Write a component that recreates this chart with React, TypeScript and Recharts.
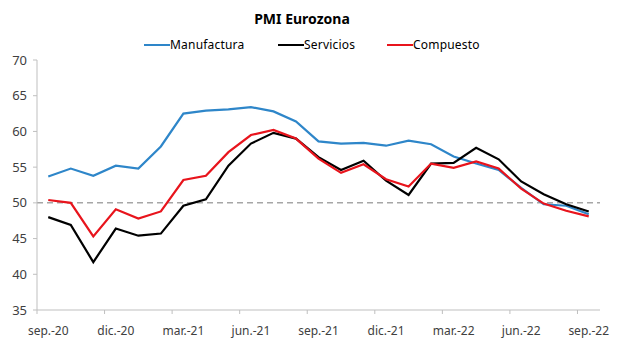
import React from 'react';
import { LineChart, Line, XAxis, YAxis, ReferenceLine } from 'recharts';

const months = ['sep.-20','oct.-20','nov.-20','dic.-20','ene.-21','feb.-21','mar.-21','abr.-21','may.-21','jun.-21','jul.-21','ago.-21','sep.-21','oct.-21','nov.-21','dic.-21','ene.-22','feb.-22','mar.-22','abr.-22','may.-22','jun.-22','jul.-22','ago.-22','sep.-22'];
const manufactura = [53.7,54.8,53.8,55.2,54.8,57.9,62.5,62.9,63.1,63.4,62.8,61.4,58.6,58.3,58.4,58.0,58.7,58.2,56.5,55.5,54.6,52.1,49.8,49.6,48.4];
const servicios = [48.0,46.9,41.7,46.4,45.4,45.7,49.6,50.5,55.2,58.3,59.8,59.0,56.4,54.6,55.9,53.1,51.1,55.5,55.6,57.7,56.1,53.0,51.2,49.8,48.8];
const compuesto = [50.4,50.0,45.3,49.1,47.8,48.8,53.2,53.8,57.1,59.5,60.2,59.0,56.2,54.2,55.4,53.3,52.3,55.5,54.9,55.8,54.8,52.0,49.9,48.9,48.1];
const yTicks = [35,40,45,50,55,60,65,70];
const labelIdx = [0,3,6,9,12,15,18,21,24];
const boundaryTicks = [-0.5,2.5,5.5,8.5,11.5,14.5,17.5,20.5,23.5];
const seriesNames = ['Manufactura','Servicios','Compuesto'];
const seriesColors = ['#2E86C9','#000000','#E8141C'];
const legendLeft = [144, 278, 387];

const data = months.map((m, i) => ({ i, m, manufactura: manufactura[i], servicios: servicios[i], compuesto: compuesto[i] }));
const xTicks = [...labelIdx, ...boundaryTicks].sort((a, b) => a - b);

const FONT = '"Noto Sans", sans-serif';

const XTick = (props: any) => {
  const { x, y, payload } = props;
  const v = payload.value;
  if (v % 1 !== 0) {
    return <line x1={x} x2={x} y1={y} y2={y + 4} stroke="#bfbfbf" strokeWidth={1} />;
  }
  return (
    <text x={x} y={y + 25} textAnchor="middle" fontSize={12} fill="#404040" fontFamily={FONT}>
      {months[v]}
    </text>
  );
};

export default function App() {
  return (
    <div style={{ position: 'absolute', left: 0, top: 0, width: 617, height: 353, background: '#fff', fontFamily: FONT }}>
      <div style={{ position: 'absolute', left: 0, top: 9, width: 604, textAlign: 'center', fontSize: 14, fontWeight: 700, color: '#000', lineHeight: '20px' }}>
        PMI Eurozona
      </div>
      {seriesNames.map((n, k) => (
        <div key={n} style={{ position: 'absolute', left: legendLeft[k], top: 36, display: 'flex', alignItems: 'center', fontSize: 12, color: '#000', lineHeight: '18px', whiteSpace: 'nowrap' }}>
          <div style={{ width: 26, height: 2.5, background: seriesColors[k] }} />
          <span style={{ letterSpacing: 0.2 }}>{n}</span>
        </div>
      ))}
      <LineChart width={617} height={353} data={data} margin={{ top: 60, right: 17, left: 0, bottom: 13 }}>
        <XAxis
          dataKey="i"
          type="number"
          domain={[-0.5, 24.5]}
          ticks={xTicks}
          interval={0}
          tick={<XTick />}
          tickLine={false}
          tickSize={0}
          tickMargin={0}
          axisLine={{ stroke: '#bfbfbf' }}
          height={30}
          allowDataOverflow
        />
        <YAxis
          domain={[35, 70]}
          ticks={yTicks}
          interval={0}
          width={37}
          tickSize={4}
          tickMargin={6}
          axisLine={{ stroke: '#bfbfbf' }}
          tickLine={{ stroke: '#bfbfbf' }}
          tick={{ fontSize: 13, fill: '#404040', fontFamily: FONT }}
          allowDataOverflow
        />
        <ReferenceLine y={50} stroke="#a6a6a6" strokeDasharray="6 4" strokeWidth={1.5} />
        <Line type="linear" dataKey="manufactura" stroke={seriesColors[0]} strokeWidth={2.2} dot={false} isAnimationActive={false} />
        <Line type="linear" dataKey="servicios" stroke={seriesColors[1]} strokeWidth={2.2} dot={false} isAnimationActive={false} />
        <Line type="linear" dataKey="compuesto" stroke={seriesColors[2]} strokeWidth={2.2} dot={false} isAnimationActive={false} />
      </LineChart>
    </div>
  );
}
